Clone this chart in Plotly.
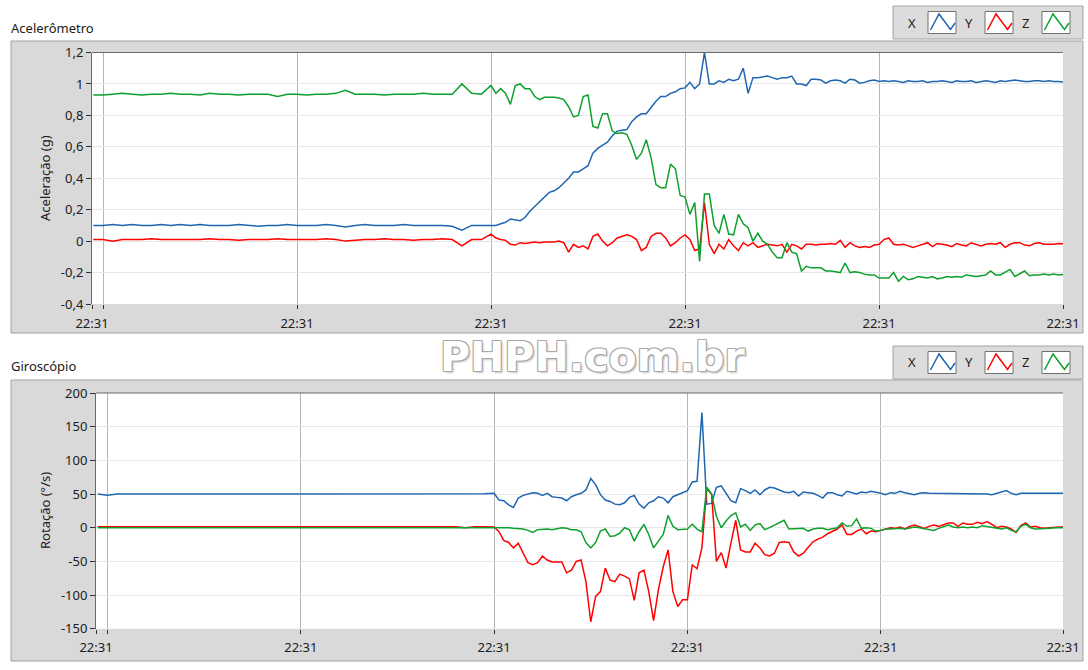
import numpy as np
import plotly.graph_objects as go

W, H = 1088, 670

# sample times (s): 0.5 s steps while still, 0.25 s steps from the movement on
t_calm = np.arange(-0.5, 19.75, 0.5)
t_move = np.arange(20.0, 49.8, 0.25)
tempo = np.concatenate([t_calm, t_move])

x_ticks = [-0.567, 0, 10, 20, 30, 40, 49.48]
x_ticks2 = [-0.595, 0, 10, 20, 30, 40, 49.43]
x_ticktext = ['22:31', '', '22:31', '22:31', '22:31', '22:31', '22:31']

acc_ticks = [-0.4, -0.2, 0, 0.2, 0.4, 0.6, 0.8, 1.0, 1.2]
acc_ticktext = ['-0,4', '-0,2', '0', '0,2', '0,4', '0,6', '0,8', '1', '1,2']
gyr_ticks = [-150, -100, -50, 0, 50, 100, 150, 200]
gyr_ticktext = ['-150', '-100', '-50', '0', '50', '100', '150', '200']

# Acelerômetro (g)
acc_x = [
    0.10, 0.10, 0.105, 0.10, 0.105, 0.10, 0.10, 0.105, 0.10, 0.105,
    0.10, 0.105, 0.10, 0.10, 0.10, 0.105, 0.10, 0.095, 0.10, 0.10,
    0.105, 0.10, 0.10, 0.10, 0.105, 0.10, 0.09, 0.10, 0.105, 0.10,
    0.10, 0.10, 0.105, 0.10, 0.10, 0.10, 0.10, 0.095, 0.07, 0.10,
    0.10,
    0.10, 0.10, 0.11, 0.12,
    0.14, 0.135, 0.13, 0.15,
    0.19, 0.22, 0.25, 0.28,
    0.31, 0.32, 0.34, 0.37,
    0.40, 0.44, 0.44, 0.46,
    0.48, 0.56, 0.59, 0.61,
    0.63, 0.67, 0.70, 0.705,
    0.71, 0.76, 0.79, 0.81,
    0.81, 0.85, 0.89, 0.92,
    0.92, 0.94, 0.95, 0.97,
    0.975, 1.01, 0.97, 1.00,
    1.20, 1.00, 1.00, 1.02,
    1.01, 1.03, 1.02, 1.03,
    1.10, 0.94, 1.04, 1.04,
    1.045, 1.05, 1.04, 1.03,
    1.04, 1.04, 1.05, 1.00,
    1.00, 0.99, 1.03, 1.03,
    1.025, 1.005, 1.02, 1.025,
    1.02, 1.005, 1.03, 1.025,
    1.005, 1.01, 1.02, 1.025,
    1.015, 1.02, 1.015, 1.02,
    1.015, 1.01, 1.02, 1.015,
    1.015, 1.02, 1.01, 1.015,
    1.015, 1.02, 1.015, 1.01,
    1.02, 1.015, 1.015, 1.02,
    1.01, 1.015, 1.02, 1.015,
    1.01, 1.02, 1.015, 1.02,
    1.025, 1.02, 1.015, 1.015,
    1.02, 1.02, 1.015, 1.02,
    1.015, 1.015, 1.01, 1.01,
]
acc_y = [
    0.01, 0.01, 0.0, 0.01, 0.01, 0.01, 0.015, 0.01, 0.01, 0.01,
    0.01, 0.01, 0.015, 0.01, 0.01, 0.005, 0.01, 0.01, 0.01, 0.015,
    0.01, 0.01, 0.01, 0.01, 0.015, 0.01, 0.0, 0.005, 0.01, 0.01,
    0.015, 0.01, 0.01, 0.005, 0.01, 0.01, 0.015, 0.01, -0.03, 0.01,
    0.01,
    0.045, 0.02, 0.01, 0.005,
    -0.02, -0.025, -0.01, -0.015,
    -0.01, -0.005, -0.01, -0.005,
    -0.005, -0.005, 0.0, -0.01,
    -0.07, -0.02, -0.04, -0.03,
    -0.05, 0.03, 0.045, 0.0,
    -0.03, -0.01, 0.02, 0.03,
    0.04, 0.03, 0.01, -0.06,
    -0.04, 0.03, 0.05, 0.05,
    0.02, -0.03, -0.01, 0.02,
    0.04, 0.01, -0.06, -0.05,
    0.245, -0.02, -0.08, -0.02,
    -0.05, 0.01, -0.03, -0.06,
    -0.01, -0.03, -0.01, -0.04,
    -0.03, -0.02, -0.025, -0.03,
    -0.02, -0.07, -0.02, -0.03,
    -0.05, -0.02, -0.02, -0.025,
    -0.02, -0.02, -0.015, -0.02,
    0.005, -0.04, -0.01, -0.03,
    -0.04, -0.035, -0.04, -0.025,
    -0.02, 0.01, 0.02, -0.02,
    -0.025, -0.02, -0.03, -0.04,
    -0.03, -0.02, -0.01, -0.035,
    -0.015, -0.02, -0.025, -0.035,
    -0.015, -0.025, -0.03, -0.01,
    -0.02, -0.03, -0.02, -0.015,
    -0.02, -0.01, -0.04, -0.02,
    -0.01, -0.01, -0.025, -0.03,
    -0.015, -0.01, -0.02, -0.02,
    -0.02, -0.015, -0.02, -0.02,
]
acc_z = [
    0.93, 0.93, 0.935, 0.94, 0.935, 0.93, 0.935, 0.935, 0.94, 0.935,
    0.935, 0.93, 0.94, 0.935, 0.935, 0.93, 0.935, 0.935, 0.935, 0.92,
    0.935, 0.935, 0.93, 0.935, 0.935, 0.94, 0.96, 0.935, 0.935, 0.935,
    0.93, 0.935, 0.935, 0.935, 0.94, 0.935, 0.935, 0.935, 1.0, 0.94,
    0.935,
    0.99, 0.94, 0.97, 0.94,
    0.87, 0.99, 1.00, 0.97,
    0.97, 0.92, 0.90, 0.915,
    0.915, 0.915, 0.91, 0.90,
    0.855, 0.79, 0.80, 0.92,
    0.93, 0.73, 0.72, 0.81,
    0.81, 0.70, 0.685, 0.69,
    0.68, 0.61, 0.52, 0.56,
    0.645, 0.53, 0.36, 0.34,
    0.34, 0.49, 0.46, 0.29,
    0.28, 0.17, 0.245, -0.13,
    0.30, 0.30, 0.10, 0.05,
    0.17, 0.045, 0.04, 0.17,
    0.11, 0.085, 0.0, 0.05,
    0.0, -0.02, -0.07, -0.105,
    -0.105, -0.01, -0.07, -0.08,
    -0.19, -0.16, -0.17, -0.17,
    -0.17, -0.19, -0.19, -0.195,
    -0.20, -0.14, -0.20, -0.195,
    -0.20, -0.21, -0.215, -0.215,
    -0.235, -0.235, -0.235, -0.20,
    -0.255, -0.225, -0.245, -0.24,
    -0.225, -0.23, -0.235, -0.225,
    -0.24, -0.235, -0.225, -0.23,
    -0.225, -0.23, -0.215, -0.22,
    -0.225, -0.22, -0.215, -0.19,
    -0.215, -0.215, -0.20, -0.18,
    -0.225, -0.21, -0.19, -0.22,
    -0.215, -0.215, -0.21, -0.215,
    -0.21, -0.215, -0.21, -0.21,
]

# Giroscópio (°/s)
gyr_x = [
    50, 48, 50, 50, 50.5, 50, 50, 50, 50.5, 50,
    50, 50, 50.5, 50, 50, 50, 50, 50.5, 50, 50,
    50, 50, 49.5, 50, 50, 50.5, 50, 50, 50, 50,
    50, 50.5, 50, 50, 49.5, 50, 50, 50, 50, 50.5,
    50.5,
    51, 41, 40, 34,
    30, 44, 48, 50,
    52, 51, 48, 51,
    46, 45, 44, 40,
    46, 49, 51, 56,
    73, 64, 49, 41,
    39, 35, 34, 37,
    45, 48, 35, 29,
    37, 40, 46, 44,
    37, 46, 49, 51,
    55, 68, 69, 171,
    35, 36, 60, 62,
    51, 40, 37, 58,
    55, 51, 56, 49,
    56, 60, 59, 56,
    53, 52, 54, 47,
    53, 52, 51, 48,
    44, 52, 52, 49,
    47, 54, 52, 50,
    53, 52, 54, 53,
    51, 49, 52, 51,
    54, 52, 50, 49,
    51, 52, 51, 51,
    50, 51, 51, 50,
    51, 50, 51, 51,
    50, 51, 50, 49,
    51, 52, 55, 51,
    49, 51, 51, 50,
    51, 51, 50, 51,
    50, 51, 51, 51,
]
gyr_y = [
    1.5, 1.5, 1.5, 1.5, 1.5, 1.5, 1.5, 1.5, 1.5, 1.5,
    1.5, 1.5, 1.5, 1.5, 1.5, 1.5, 1.5, 1.5, 1.5, 1.5,
    1.5, 1.5, 1.5, 1.5, 1.5, 1.5, 1.5, 1.5, 1.5, 1.5,
    1.5, 1.5, 1.5, 1.5, 1.5, 1.5, 1.5, 1.5, 0.0, 1.5,
    1.5,
    1, -6, -19, -22,
    -30, -23, -38, -52,
    -55, -52, -42, -48,
    -51, -51, -51, -67,
    -63, -50, -48, -80,
    -140, -102, -95, -60,
    -78, -80, -69, -72,
    -76, -108, -67, -63,
    -95, -138, -92, -58,
    -33, -95, -117, -107,
    -107, -55, -61, -30,
    58, 50, -50, -37,
    -60, -23, 11, -33,
    -36, -36, -23, -30,
    -40, -42, -38, -22,
    -21, -22, -36, -42,
    -38, -29, -21, -17,
    -14, -9, -5, -2,
    4, -10, -10, -5,
    -2, -9, -5, -6,
    -4, -2, 0, -1,
    1, -2, 2, 4,
    1, -1, 2, 4,
    2, 5, 7, 7,
    2, 7, 5, 5,
    8, 6, 9, 5,
    0, 2, 1, -2,
    -7, 3, 7, 1,
    2, 0, -1, 0,
    1, 1, 1, 1,
]
gyr_z = [
    0, 0, 0, 0, 0, 0, 0, 0, 0, 0,
    0, 0, 0, 0, 0, 0, 0, 0, 0, 0,
    0, 0, 0, 0, 0, 0, 0, 0, 0, 0,
    0, 0, 0, 0, 0, 0, 0, 0, 0, 0,
    0,
    0, 0, 1, 0,
    -1, -1, -2, -4,
    -7, -3, -2, -2,
    -3, -1, 0, -1,
    -3, -3, -6, -22,
    -30, -22, -5, -2,
    -13, -12, -8, 0,
    -3, -20, -6, 5,
    -10, -30, -20, -10,
    18, 2, -3, -3,
    -2, 5, -2, -6,
    60, 50, 17, 0,
    10, 18, 22, 1,
    5, -4, 4, 6,
    -3, 0, 4, 8,
    11, -2, -2, -2,
    -1, -5, -2, -1,
    -1, -3, -2, 0,
    7, 2, 3, 13,
    -1, 0, -1, -5,
    -4, -2, -2, -1,
    -1, -2, 0, 1,
    0, -1, -3, -4,
    -1, 1, 4, 1,
    0, 1, 0, 1,
    0, 3, 2, 1,
    -1, -2, 0, -4,
    -6, 2, 5, 0,
    -2, -2, -1, -1,
    0, 0, 0, 0,
]

BLUE = '#1f66b0'
RED = '#ff0000'
GREEN = '#0ea02e'
FRAME = '#d9d9d9'
FONT = 'Noto Sans'


def px(x):
    return x / W


def py(y):
    return 1 - y / H


fig = go.Figure()
for name, vals, col in [('X', acc_x, BLUE), ('Y', acc_y, RED), ('Z', acc_z, GREEN)]:
    fig.add_trace(go.Scatter(x=tempo, y=vals, name=name, mode='lines',
                             line=dict(color=col, width=1.5),
                             xaxis='x', yaxis='y', showlegend=False))
for name, vals, col in [('X', gyr_x, BLUE), ('Y', gyr_y, RED), ('Z', gyr_z, GREEN)]:
    fig.add_trace(go.Scatter(x=tempo, y=vals, name=name, mode='lines',
                             line=dict(color=col, width=1.5),
                             xaxis='x2', yaxis='y2', showlegend=False))

shapes = []
annotations = []

# panels: (frame top, frame bottom, plot left, plot top, plot bottom, legend top)
panels = [(41, 333, 92, 52.5, 304, 6), (380, 661, 96, 393, 628.7, 346)]
for top, bottom, left, ptop, pbot, ltop in panels:
    shapes.append(dict(type='rect', xref='paper', yref='paper', layer='below',
                       x0=px(11), x1=px(1083), y0=py(bottom), y1=py(top),
                       fillcolor=FRAME, line=dict(color='#a3a3a3', width=1)))
    shapes.append(dict(type='rect', xref='paper', yref='paper', layer='below',
                       x0=px(left), x1=px(1063), y0=py(pbot), y1=py(ptop),
                       fillcolor='white', line=dict(width=0)))
    shapes.append(dict(type='line', xref='paper', yref='paper',
                       x0=px(left), x1=px(1063), y0=py(ptop), y1=py(ptop),
                       line=dict(color='#6a6a6a', width=1)))
    # legend box
    shapes.append(dict(type='rect', xref='paper', yref='paper',
                       x0=px(893), x1=px(1083), y0=py(ltop + 33), y1=py(ltop),
                       fillcolor='#dcdcdc', line=dict(color='#a3a3a3', width=1)))
    for lx, letter, col in [(928, 'X', BLUE), (985, 'Y', RED), (1042, 'Z', GREEN)]:
        shapes.append(dict(type='rect', xref='paper', yref='paper',
                           x0=px(lx), x1=px(lx + 28), y0=py(ltop + 27.5), y1=py(ltop + 5.5),
                           fillcolor='white', line=dict(color='#707070', width=1)))
        path = 'M {},{} L {},{} L {},{} L {},{}'.format(
            px(lx + 2.5), py(ltop + 24), px(lx + 11), py(ltop + 8),
            px(lx + 22.5), py(ltop + 23.5), px(lx + 27), py(ltop + 17))
        shapes.append(dict(type='path', xref='paper', yref='paper', path=path,
                           line=dict(color=col, width=1.5)))
        annotations.append(dict(text=letter, xref='paper', yref='paper',
                                x=px(lx - 16.5), y=py(ltop + 16.5), showarrow=False,
                                xanchor='center', yanchor='middle',
                                font=dict(family=FONT, size=13, color='#202020')))

annotations += [
    dict(text='Acelerômetro', xref='paper', yref='paper', x=px(9), y=py(28),
         xanchor='left', yanchor='middle', showarrow=False,
         font=dict(family=FONT, size=13, color='#202020')),
    dict(text='Giroscópio', xref='paper', yref='paper', x=px(9), y=py(366),
         xanchor='left', yanchor='middle', showarrow=False,
         font=dict(family=FONT, size=13, color='#202020')),
    dict(text='Aceleração (g)', xref='paper', yref='paper', x=px(45), y=py(178),
         textangle=-90, xanchor='center', yanchor='middle', showarrow=False,
         font=dict(family=FONT, size=13, color='#202020')),
    dict(text='Rotação (°/s)', xref='paper', yref='paper', x=px(45), y=py(511),
         textangle=-90, xanchor='center', yanchor='middle', showarrow=False,
         font=dict(family=FONT, size=13, color='#202020')),
    dict(text='<b>PHPH.com.br</b>', xref='paper', yref='paper', x=px(592), y=py(357),
         xanchor='center', yanchor='middle', showarrow=False,
         font=dict(family='DejaVu Sans', size=41, color='white',
                   shadow='-1px -1px 0 #a8a8a8, 1px -1px 0 #a8a8a8, '
                          '-1px 1px 0 #a8a8a8, 1px 1px 0 #a8a8a8, 2px 2px 2px #c8c8c8')),
]

xcommon = dict(tickmode='array', ticktext=x_ticktext, showgrid=True,
               gridcolor='#b5b5b5', gridwidth=1, ticks='outside', ticklen=4,
               tickcolor='#303030', zeroline=False, showline=False, automargin=False,
               ticklabelstandoff=3, tickfont=dict(family=FONT, size=13, color='#202020'),
               fixedrange=True)
ycommon = dict(tickmode='array', showgrid=True, gridcolor='#e6e6e6', gridwidth=1,
               ticks='outside', ticklen=5, tickcolor='#303030', zeroline=False,
               showline=True, linecolor='#6a6a6a', linewidth=1, automargin=False,
               tickfont=dict(family=FONT, size=13, color='#202020'), fixedrange=True)

fig.update_layout(
    width=W, height=H, autosize=False,
    margin=dict(l=0, r=0, t=0, b=0, autoexpand=False),
    paper_bgcolor='white', plot_bgcolor='rgba(0,0,0,0)',
    font=dict(family=FONT, size=13, color='#202020'),
    showlegend=False, dragmode=False,
    xaxis=dict(xcommon, domain=[px(92), px(1063)], range=[-0.567, 49.48],
               tickvals=x_ticks, anchor='y'),
    yaxis=dict(ycommon, domain=[py(304), py(52.5)], range=[-0.4, 1.2],
               tickvals=acc_ticks, ticktext=acc_ticktext, anchor='x'),
    xaxis2=dict(xcommon, domain=[px(96), px(1063)], range=[-0.595, 49.43],
                tickvals=x_ticks2, anchor='y2'),
    yaxis2=dict(ycommon, domain=[py(628.7), py(393)], range=[-150, 200],
                tickvals=gyr_ticks, ticktext=gyr_ticktext, anchor='x2'),
    shapes=shapes,
    annotations=annotations,
)

# the page's default body margin would push the 1088x670 figure out of the window
fig.write_html('out.html', config={'displayModeBar': False},
               post_script="document.body.style.margin='0';")
